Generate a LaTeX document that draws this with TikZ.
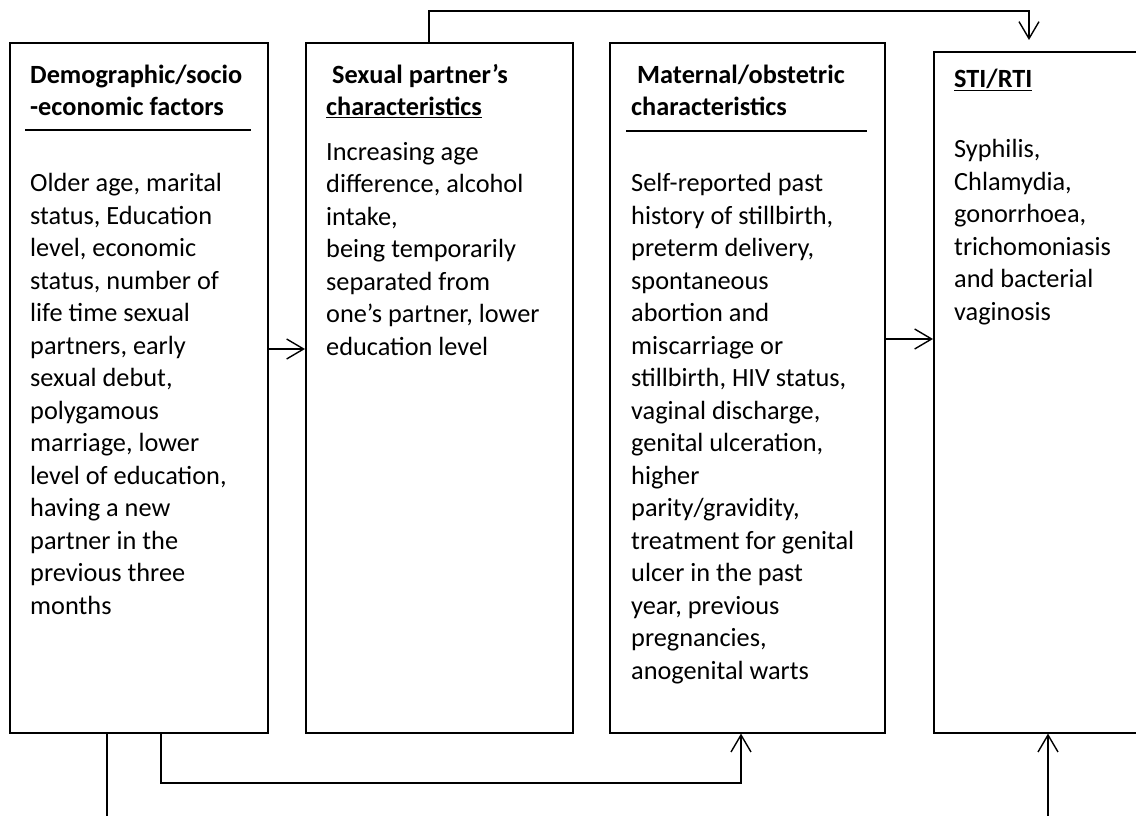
\documentclass[tikz,border=0pt]{standalone}
\usepackage{fontspec}
\setmainfont{Carlito}
\usetikzlibrary{arrows.meta}
\begin{document}
\begin{tikzpicture}[x=1pt, y=-1pt]

\tikzset{drawbox/.style={draw, rectangle, line width=1.6pt, inner sep=0pt, anchor=north west, minimum height=690pt}}
\tikzset{boxtext/.style={font=\fontsize{26.3}{32.5}\selectfont, align=left, inner sep=0pt, anchor=base west}}
\tikzset{link/.style={line width=1.4pt, -{Straight Barb[length=17pt, width=20pt]}}}
\tikzset{plainlink/.style={line width=1.4pt}}
\tikzset{titlerule/.style={line width=1.8pt}}

% canvas
\useasboundingbox (0,0) rectangle (1136,816);
\fill[white] (0,0) rectangle (1136,816);
\clip (0,0) rectangle (1136,816);

% the four boxes
\node[drawbox, minimum width=258pt] at (  9, 42) (dem) {};
\node[drawbox, minimum width=267pt] at (305, 42) (sex) {};
\node[drawbox, minimum width=275pt] at (609, 42) (mat) {};
\node[drawbox, minimum width=260pt, minimum height=681pt] at (933, 51) (sti) {};

% box titles (placed by the baseline of their last line)
\node[boxtext] at ( 30,116) (demtitle) {\bfseries Demographic/socio\\\bfseries -economic factors};
\node[boxtext] at (326,116) (sextitle) {\bfseries\hspace*{6pt}Sexual partner’s\\\bfseries\underline{characteristics}};
\node[boxtext] at (631,116) (mattitle) {\bfseries\hspace*{6pt}Maternal/obstetric\\\bfseries characteristics};
\node[boxtext] at (954, 88) (stititle) {\bfseries\underline{STI/RTI}};
\draw[titlerule] ( 25,130) -- (251,130);
\draw[titlerule] (626,131) -- (867,131);

% box contents
\node[boxtext] at ( 30,614) (dembody) {Older age, marital\\status, Education\\level, economic\\status, number of\\life time sexual\\partners, early\\sexual debut,\\polygamous\\marriage, lower\\level of education,\\having a new\\partner in the\\previous three\\months};
\node[boxtext] at (326,355) (sexbody) {Increasing age\\difference, alcohol\\intake,\\being temporarily\\separated from\\one’s partner, lower\\education level};
\node[boxtext] at (631,679) (matbody) {Self-reported past\\history of stillbirth,\\preterm delivery,\\spontaneous\\abortion and\\miscarriage or\\stillbirth, HIV status,\\vaginal discharge,\\genital ulceration,\\higher\\parity/gravidity,\\treatment for genital\\ulcer in the past\\year, previous\\pregnancies,\\anogenital warts};
\node[boxtext] at (954,320) (stibody) {Syphilis,\\Chlamydia,\\gonorrhoea,\\trichomoniasis\\and bacterial\\vaginosis};

% loose ends below the picture
\coordinate (demout) at (107,830);
\coordinate (stiin) at (1048,830);

% links
\draw[link] (dem.east |- 0,349) -- (sex.west |- 0,349);
\draw[link] (mat.east |- 0,339) -- (sti.west |- 0,339);
\draw[link, shorten >=11pt] (429,0 |- sex.north) |- (1029,11) -- (1029,0 |- sti.north);
\draw[link] (161,0 |- dem.south) |- (741,783) -- (741,0 |- mat.south);
\draw[plainlink] (107,0 |- dem.south) -- (demout);
\draw[link] (stiin) -- (1048,0 |- sti.south);

\end{tikzpicture}
\end{document}
